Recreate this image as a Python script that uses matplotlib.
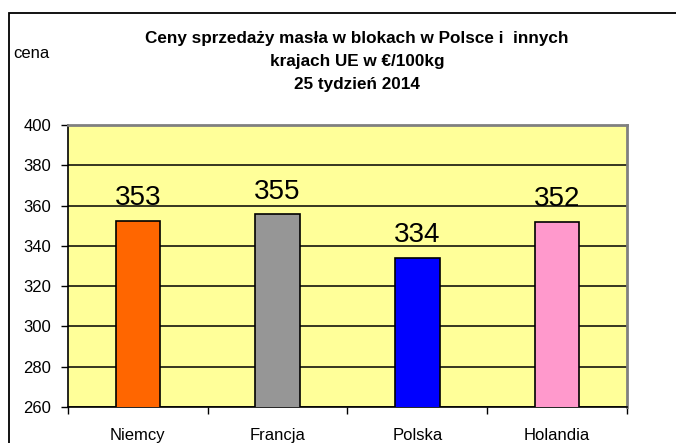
import matplotlib
matplotlib.use("Agg")
import matplotlib.pyplot as plt
from matplotlib.patches import Rectangle

# data
countries = ["Niemcy", "Francja", "Polska", "Holandia"]
prices = [352.3, 355.7, 334.1, 352.0]
price_labels = ["353", "355", "334", "352"]
bar_colors = ["#FF6600", "#969696", "#0000FF", "#FF99CC"]
y_ticks = [260, 280, 300, 320, 340, 360, 380, 400]

title = "Ceny sprzedaży masła w blokach w Polsce i  innych\nkrajach UE w €/100kg\n25 tydzień 2014"

plt.rcParams["font.family"] = ["Liberation Sans", "DejaVu Sans"]

W, H = 676, 443
fig = plt.figure(figsize=(W / 100, H / 100), dpi=100)
ax = fig.add_axes([68 / W, (H - 407) / H, (627 - 68) / W, (407 - 125) / H])

# outer chart frame (runs off the right and bottom edges)
fig.patches.append(Rectangle((9 / W, -0.1), 1.2, (H - 13) / H + 0.1,
                             transform=fig.transFigure, fill=False,
                             edgecolor="black", linewidth=1.3))

ax.set_facecolor("#FFFF99")
x = range(len(countries))
bars = ax.bar(x, prices, width=0.32, color=bar_colors, edgecolor="black",
              linewidth=1.2, zorder=3)

for b, lab in zip(bars, price_labels):
    ax.annotate(lab, (b.get_x() + b.get_width() / 2, b.get_height()),
                xytext=(0, 7), textcoords="offset points",
                ha="center", va="bottom", fontsize=20, zorder=4)

ax.set_ylim(260, 400)
ax.set_xlim(-0.5, len(countries) - 0.5)
ax.set_yticks(y_ticks)
ax.yaxis.grid(True, color="black", linewidth=1.1, zorder=1)
ax.set_axisbelow(True)

ax.set_xticks(list(x))
ax.set_xticklabels(countries, fontsize=12)
ax.set_xticks([i - 0.5 for i in range(len(countries) + 1)], minor=True)
ax.tick_params(axis="x", which="major", length=0, pad=15)
ax.tick_params(axis="x", which="minor", length=5, direction="out", width=1)
ax.tick_params(axis="y", length=5, direction="out", width=1, pad=7, labelsize=12)

for s in ["left", "bottom"]:
    ax.spines[s].set_color("black")
    ax.spines[s].set_linewidth(1.2)
for s in ["top", "right"]:
    ax.spines[s].set_color("#808080")
    ax.spines[s].set_linewidth(2)

fig.text(13 / W, 1 - 53 / H, "cena", fontsize=12, ha="left", va="center")
fig.text(357 / W, 1 - 31 / H, title, ha="center", va="top", fontsize=12.3,
         fontweight="bold", linespacing=1.65)

fig.savefig("out.png", dpi=100)
